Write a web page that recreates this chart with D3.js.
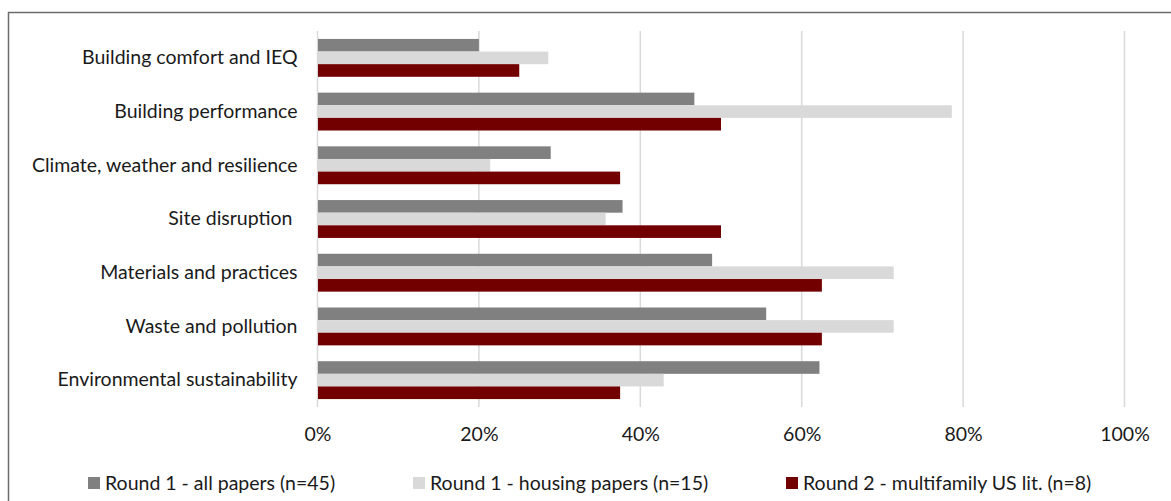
<!DOCTYPE html>
<html><head><meta charset="utf-8">
<script src="https://cdn.jsdelivr.net/npm/d3@7"></script>
<style>
html,body{margin:0;padding:0;background:#fff;}
text{font-family:Lato,"Open Sans",sans-serif;fill:#1a1a1a;white-space:pre;}
</style></head>
<body>
<svg id="chart" width="1171" height="501"></svg>
<script>
const categories = ["Building comfort and IEQ","Building performance","Climate, weather and resilience","Site disruption ","Materials and practices","Waste and pollution","Environmental sustainability"];
const seriesNames = ["Round 1 - all papers (n=45)","Round 1 - housing papers (n=15)","Round 2 - multifamily US lit. (n=8)"];
const allPapers = [20.0, 46.7, 28.9, 37.8, 48.9, 55.6, 62.2];
const housingPapers = [28.6, 78.6, 21.4, 35.7, 71.4, 71.4, 42.9];
const multifamily = [25.0, 50.0, 37.5, 50.0, 62.5, 62.5, 37.5];
const tickValues = [0, 20, 40, 60, 80, 100];
const colors = ["#808080", "#d9d9d9", "#720000"];

const series = [allPapers, housingPapers, multifamily];
const svg = d3.select("#chart");
const FS = 19.5;

// frame
svg.append("path").attr("d","M8.5,520 V12.5 H1200").attr("fill","none").attr("stroke","#6b6b6b").attr("stroke-width",1.5);

const x = d3.scaleLinear().domain([0,100]).range([317.5,1124.5]);
const y = d3.scaleBand().domain(categories).range([31,407]).paddingInner(0.295).paddingOuter(0.1475);
const yInner = d3.scaleBand().domain(d3.range(3)).range([0, y.bandwidth()]);

// gridlines
svg.append("g").selectAll("line").data(tickValues).join("line")
  .attr("x1", d=>x(d)).attr("x2", d=>x(d)).attr("y1", 31).attr("y2", 407)
  .attr("stroke","#d9d9d9").attr("stroke-width",1.5);

// bars
const groups = svg.append("g").selectAll("g").data(categories).join("g")
  .attr("transform", d=>`translate(0,${y(d)})`);
groups.selectAll("rect").data((d,i)=>series.map((s,k)=>({k, v:s[i]}))).join("rect")
  .attr("x", x(0)+0.5)
  .attr("y", d=>yInner(d.k))
  .attr("width", d=>x(d.v)-x(0)-0.5)
  .attr("height", yInner.bandwidth())
  .attr("fill", d=>colors[d.k]);

// y axis labels
const yAxis = d3.axisLeft(y).tickSize(0).tickPadding(20);
const ya = svg.append("g").attr("transform",`translate(${x(0)},0)`).call(yAxis);
ya.select(".domain").remove();
ya.selectAll("text").attr("font-size",FS).attr("font-family","Lato,'Open Sans',sans-serif").attr("fill","#1a1a1a");

// x axis labels
const xAxis = d3.axisBottom(x).tickValues(tickValues).tickFormat(d=>d+"%").tickSize(0).tickPadding(0);
const xa = svg.append("g").attr("transform","translate(0,427)").call(xAxis);
xa.select(".domain").remove();
xa.selectAll("text").attr("font-size",FS).attr("font-family","Lato,'Open Sans',sans-serif").attr("fill","#1a1a1a");

// legend
const legendX = [88, 413, 786];
const lg = svg.append("g").selectAll("g").data(seriesNames).join("g")
  .attr("transform",(d,i)=>`translate(${legendX[i]},477)`);
lg.append("rect").attr("width",12).attr("height",12).attr("fill",(d,i)=>colors[i]);
lg.append("text").attr("x",17).attr("y",6).attr("dy","0.35em").attr("font-size",FS).text(d=>d);
</script>
</body></html>
